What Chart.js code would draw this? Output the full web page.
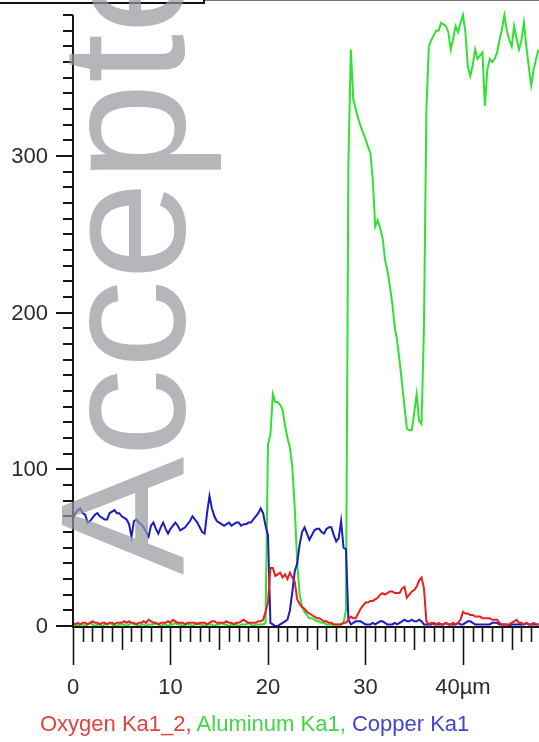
<!DOCTYPE html>
<html>
<head>
<meta charset="utf-8">
<script src="https://cdn.jsdelivr.net/npm/chart.js@4/dist/chart.umd.min.js"></script>
<style>
html,body{margin:0;padding:0;background:#fff;overflow:hidden;}
#wrap{position:relative;width:539px;height:742px;overflow:hidden;}
#c{position:absolute;left:0;top:0;}
#frameA{position:absolute;left:0;top:0;width:203px;height:2px;border-bottom:2px solid #111;border-right:2px solid #111;}
#frameB{position:absolute;left:205px;top:0;width:334px;height:1px;background:#777;}
#wm{position:absolute;left:35px;top:575px;transform-origin:left top;transform:rotate(-90deg);
  font-family:"Liberation Sans",Arial,sans-serif;font-size:177px;line-height:177px;white-space:nowrap;
  color:rgba(150,151,156,0.70);pointer-events:none;}
#legend{position:absolute;left:40px;top:713px;font-family:"Liberation Sans",Arial,sans-serif;font-size:22px;line-height:22px;white-space:nowrap;}
</style>
</head>
<body>
<div id="wrap">
  <canvas id="c" width="539" height="742"></canvas>
  <div id="frameA"></div><div id="frameB"></div>
  <div id="wm">Accepted</div>
  <div id="legend"><span style="color:#e4423e">Oxygen Ka1_2,</span> <span style="color:#42d642">Aluminum Ka1,</span> <span style="color:#4343d2">Copper Ka1</span></div>
</div>
<script>
// sampling grid (µm)
const xStart = 0, xStep = 0.25, nPoints = 192;
const positions = [];
for (let i = 0; i < nPoints; i++) positions.push(xStart + i * xStep);

const oxygen = [
  2,1,2,1,2,2,1,2,3,2,
  2,1,2,2,1,2,2,1,2,2,
  2,3,2,3,2,2,1,2,2,3,
  2,4,3,2,2,1,2,2,2,3,
  2,4,3,2,2,2,1,2,2,2,
  2,1,2,2,2,1,2,3,3,2,
  2,2,2,3,2,2,1,2,2,3,
  4,3,2,2,2,2,3,3,4,9,
  15,37,37,32,33,34,31,33,30,34,
  31,28,17,14,12,11,9,8,7,6,
  5,5,4,3,3,2,2,1,1,1,
  1,2,2,4,6,5,5,8,11,13,
  15,15,16,16,17,18,20,21,20,21,
  22,22,21,21,21,24,25,18,20,22,
  23,25,29,31,24,3,1,2,1,1,
  2,1,1,2,1,1,2,1,2,4,
  9,8,8,7,7,6,6,6,5,5,
  5,5,4,4,4,2,1,1,1,1,
  2,3,4,2,2,1,2,1,1,2,
  1,1
];
const aluminum = [
  1,1,0,1,1,0,1,2,1,0,
  1,1,0,1,1,2,1,0,0,1,
  1,1,0,1,2,1,1,0,1,1,
  0,1,1,1,2,1,0,1,1,0,
  1,1,2,1,1,0,1,1,1,0,
  1,2,1,1,0,1,1,1,0,1,
  1,2,1,1,0,1,1,1,0,1,
  1,1,2,1,0,1,1,1,1,2,
  116,122,148,143,143,141,138,128,120,114,
  101,75,40,20,12,9,7,5,5,4,
  3,3,2,2,1,1,1,1,1,1,
  1,2,10,296,368,336,330,324,319,315,
  311,306,302,285,255,259,254,248,234,227,
  217,206,191,182,169,155,140,126,125,125,
  136,148,131,129,191,330,370,374,377,380,
  380,385,384,383,379,368,375,383,379,385,
  390,379,357,351,358,368,362,364,366,332,
  355,362,360,362,366,374,381,390,380,374,
  370,383,375,368,374,385,370,357,345,355,
  362,368
];
const copper = [
  69,72,74,75,72,71,66,67,69,71,
  72,70,69,68,68,72,73,74,72,72,
  70,69,68,65,57,67,68,66,65,63,
  60,57,64,66,62,59,63,66,62,59,
  62,64,66,64,61,62,63,65,67,70,
  68,66,63,60,59,72,83,75,70,67,
  66,65,64,65,66,64,65,66,66,64,
  65,65,66,66,68,70,72,75,72,64,
  58,2,1,0,0,1,2,3,4,10,
  22,35,40,52,60,63,59,55,58,61,
  62,62,60,59,62,63,63,58,54,56,
  67,50,49,4,1,2,3,3,3,2,
  1,1,1,2,1,2,3,3,2,1,
  1,1,2,1,2,3,4,3,3,4,
  3,3,4,3,1,1,1,1,2,1,
  1,1,1,2,1,1,1,1,2,1,
  1,2,3,3,2,1,1,1,1,1,
  1,1,2,2,2,1,1,1,1,0,
  1,1,1,1,1,1,2,1,1,1,
  1,1
];
const seriesNames = ["Oxygen Ka1_2", "Aluminum Ka1", "Copper Ka1"];
const xMajorTicks = [0, 10, 20, 30, 40];
const xTickLabels = ["0", "10", "20", "30", "40µm"];
const yMajorTicks = [0, 100, 200, 300];
const yTickLabels = ["0", "100", "200", "300"];
const xMin = 0, xMax = 47.8, yMin = 0, yMax = 390;

function pts(vals){ return vals.map((v,i)=>({x:positions[i], y:v})); }

const axesPlugin = {
  id: 'axesPlugin',
  afterDraw(chart){
    const ctx = chart.ctx, xs = chart.scales.x, ys = chart.scales.y, a = chart.chartArea;
    ctx.save();
    ctx.strokeStyle = '#161616';
    ctx.fillStyle = '#2b2b2b';
    // axis lines
    ctx.lineWidth = 2;
    ctx.beginPath();
    ctx.moveTo(a.left, ys.getPixelForValue(yMax)); ctx.lineTo(a.left, a.bottom + 1);
    ctx.moveTo(a.left - 1, a.bottom + 1); ctx.lineTo(a.right, a.bottom + 1);
    ctx.stroke();
    // y ticks
    ctx.lineWidth = 2;
    for (let v = yMin; v <= yMax; v += 10) {
      const y = Math.round(ys.getPixelForValue(v));
      const len = (v % 100 === 0) ? 17 : 10;
      ctx.beginPath(); ctx.moveTo(a.left - len, y); ctx.lineTo(a.left, y); ctx.stroke();
    }
    // x ticks
    ctx.lineWidth = 1.6;
    for (let v = 0; v <= Math.floor(xMax); v += 1) {
      const x = Math.round(xs.getPixelForValue(v)) + 0.5;
      const len = (v % 10 === 0) ? 38 : (v % 5 === 0 ? 23 : 15);
      ctx.beginPath(); ctx.moveTo(x, a.bottom + 1); ctx.lineTo(x, a.bottom + 1 + len); ctx.stroke();
    }
    // labels
    ctx.font = '22px "Liberation Sans", Arial, sans-serif';
    ctx.textAlign = 'right'; ctx.textBaseline = 'middle';
    yMajorTicks.forEach((v,i)=>{ ctx.fillText(yTickLabels[i], a.left - 25, ys.getPixelForValue(v) + 1); });
    ctx.textAlign = 'center'; ctx.textBaseline = 'alphabetic';
    xMajorTicks.forEach((v,i)=>{ ctx.fillText(xTickLabels[i], xs.getPixelForValue(v), a.bottom + 68); });
    ctx.restore();
  }
};

new Chart(document.getElementById('c'), {
  type: 'line',
  data: {
    datasets: [
      { label: seriesNames[0], data: pts(oxygen), borderColor: 'rgb(232,32,30)', order: 0 },
      { label: seriesNames[2], data: pts(copper), borderColor: 'rgb(28,28,196)', order: 1 },
      { label: seriesNames[1], data: pts(aluminum), borderColor: 'rgb(48,226,48)', order: 2 }
    ].map(d => Object.assign(d, { borderWidth: 2, pointRadius: 0, tension: 0, fill: false, clip: 4 }))
  },
  options: {
    responsive: false,
    devicePixelRatio: 1,
    animation: false,
    layout: { padding: { left: 73, right: 0, top: 15, bottom: 116 } },
    plugins: { legend: { display: false }, tooltip: { enabled: false } },
    scales: {
      x: { type: 'linear', min: xMin, max: xMax, display: false },
      y: { type: 'linear', min: yMin, max: yMax, display: false }
    }
  },
  plugins: [axesPlugin]
});
</script>
</body>
</html>
